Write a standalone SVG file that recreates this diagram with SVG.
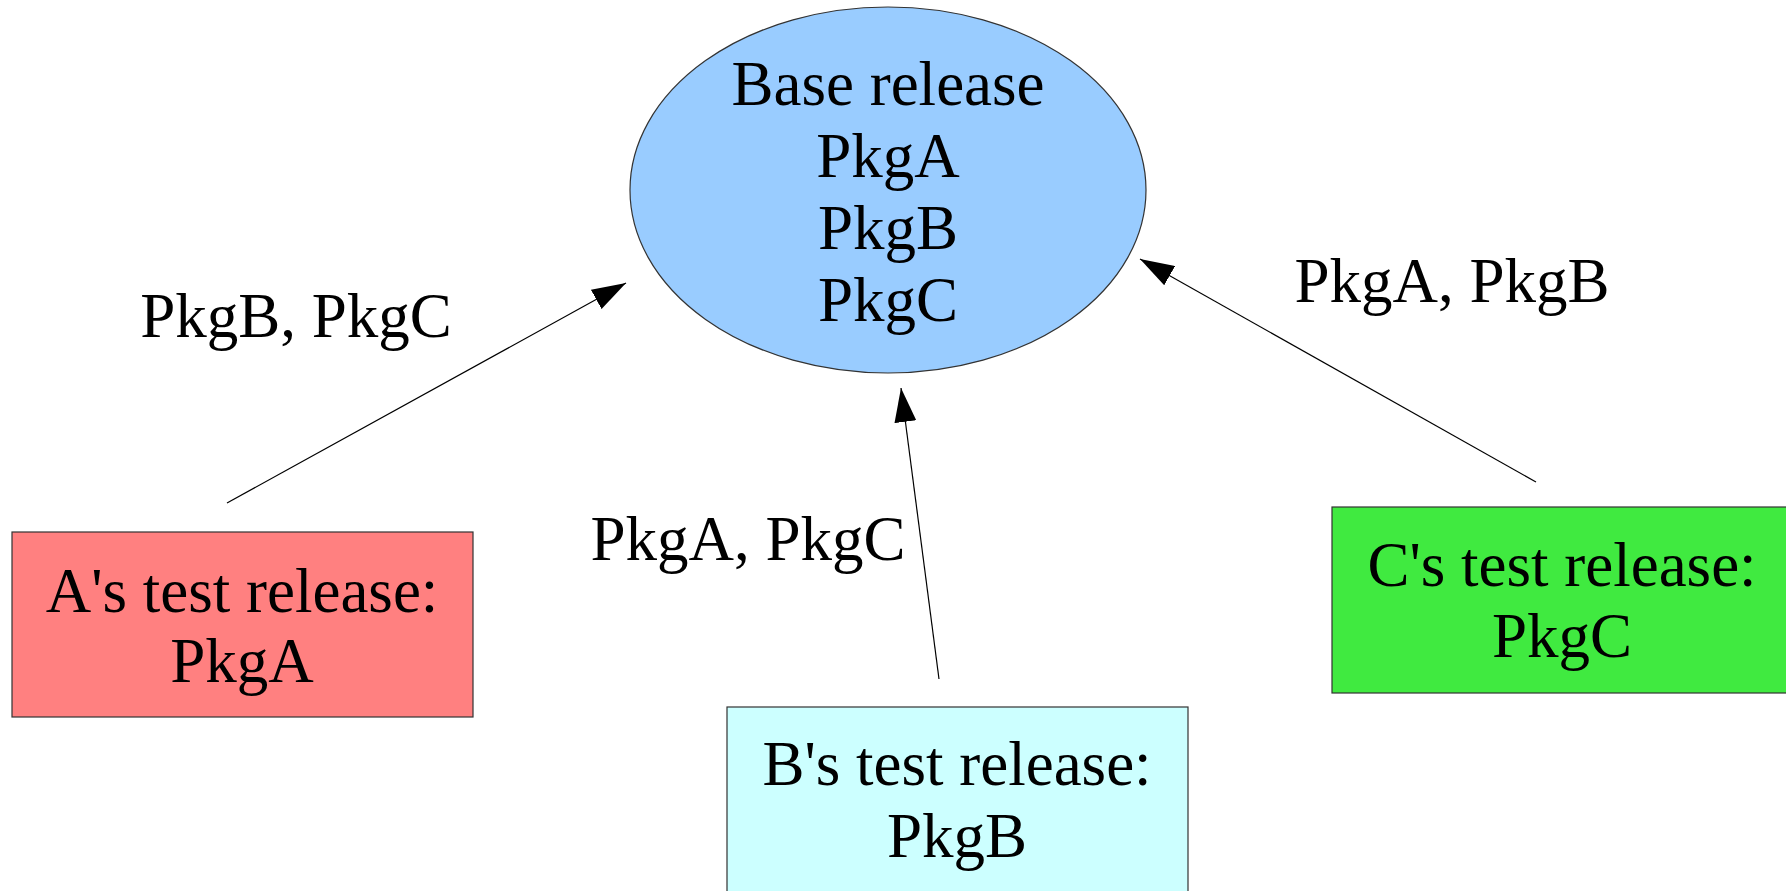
<svg xmlns="http://www.w3.org/2000/svg" width="1786" height="891" viewBox="0 0 1786 891">
<style>
text{font-family:"Liberation Serif","Times New Roman",serif;font-size:63px;fill:#000;text-anchor:middle}
.n{stroke:#333;stroke-width:1.2}
.c{stroke:#000;stroke-width:1.2;fill:none;marker-end:url(#ah)}
</style>
<defs>
<marker id="ah" markerUnits="userSpaceOnUse" markerWidth="34" markerHeight="22" refX="34" refY="11" orient="auto" viewBox="0 0 34 22">
<path d="M0,0 L34,11 L0,22 z" fill="#000"/>
</marker>
</defs>
<rect width="1786" height="891" fill="#fff"/>
<g id="connectors">
<line class="c" x1="227" y1="503" x2="626" y2="283"/>
<line class="c" x1="939" y1="679" x2="901" y2="388"/>
<line class="c" x1="1536" y1="482" x2="1140" y2="259"/>
<text x="296" y="337">PkgB, PkgC</text>
<text x="1452" y="302">PkgA, PkgB</text>
<text x="748" y="560">PkgA, PkgC</text>
</g>
<g id="base">
<ellipse class="n" cx="888" cy="190" rx="258" ry="183" fill="#99ccff"/>
<text x="888" y="105">Base release</text>
<text x="888" y="177">PkgA</text>
<text x="888" y="249">PkgB</text>
<text x="888" y="321">PkgC</text>
</g>
<g id="nodeA">
<rect class="n" x="12" y="532" width="461" height="185" fill="#ff8080"/>
<text x="242" y="612">A's test release:</text>
<text x="242" y="682">PkgA</text>
</g>
<g id="nodeB">
<rect class="n" x="727" y="707" width="461" height="200" fill="#ccffff"/>
<text x="957" y="785">B's test release:</text>
<text x="957" y="857">PkgB</text>
</g>
<g id="nodeC">
<rect class="n" x="1332" y="507" width="461" height="186" fill="#40ea40"/>
<text x="1562" y="586">C's test release:</text>
<text x="1562" y="657">PkgC</text>
</g>
</svg>
